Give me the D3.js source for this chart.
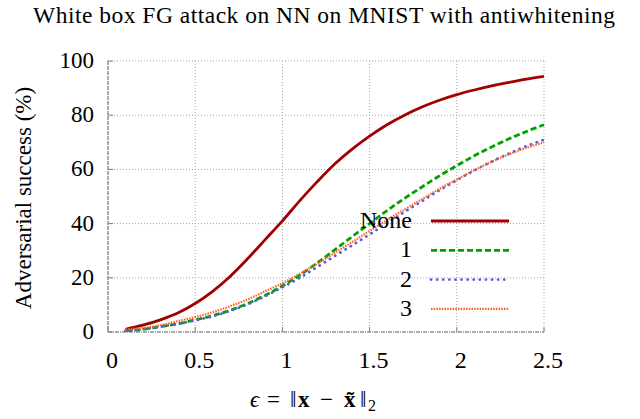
<!DOCTYPE html>
<html>
<head>
<meta charset="utf-8">
<script src="https://cdn.jsdelivr.net/npm/d3@7"></script>
<style>
 body { margin: 0; background: #fff; }
 #chart text { font-family: "Liberation Serif", "Times New Roman", serif; fill: #000; }
</style>
</head>
<body>
<svg id="chart" width="640" height="419"></svg>
<script>
const eps = [0.1, 0.2, 0.3, 0.4, 0.5, 0.6, 0.7, 0.8, 0.9, 1.0, 1.1, 1.2, 1.3,
  1.4, 1.5, 1.6, 1.7, 1.8, 1.9, 2.0, 2.1, 2.2, 2.3, 2.4, 2.5];
const none = [1, 2.5, 4.5, 7, 10.5, 15, 20.5, 27, 34, 41, 48.5, 55.5, 62,
  67.5, 72.3, 76.5, 80, 83, 85.5, 87.6, 89.3, 90.8, 92.1, 93.3, 94.3];
const aw1 = [0.5, 1, 2, 3, 4.5, 6, 8, 10.5, 13.5, 17, 21, 25.5, 30.3,
  35.2, 40, 44.8, 49.3, 53.5, 57.6, 61.4, 65, 68.3, 71.3, 74, 76.5];
const aw2 = [0.5, 1, 2, 3, 4.3, 5.8, 7.8, 10.2, 13.2, 16.5, 20, 24, 28,
  32, 36, 40.2, 44.3, 48.3, 52.3, 56, 59.6, 62.9, 65.9, 68.6, 71];
const aw3 = [1, 1.5, 2.5, 4, 5.5, 7.3, 9.5, 12, 15, 18, 21.5, 25.2, 29.2,
  33.2, 37.3, 41.3, 45.2, 49, 52.8, 56.3, 59.7, 62.8, 65.6, 68, 70];
const xTicks = [0, 0.5, 1, 1.5, 2, 2.5];
const yTicks = [0, 20, 40, 60, 80, 100];
const seriesNames = ["None", "1", "2", "3"];

const series = [
  {name: seriesNames[0], values: none, color: "#a00000", width: 2.8, dash: null, cap: "butt"},
  {name: seriesNames[1], values: aw1, color: "#00a000", width: 2.8, dash: "6,3", cap: "butt"},
  {name: seriesNames[2], values: aw2, color: "#5a5ae6", width: 2.8, dash: "0.1,6", cap: "round"},
  {name: seriesNames[3], values: aw3, color: "#ff6020", width: 2.2, dash: "1.5,1.2", cap: "butt"}
];

const svg = d3.select("#chart");
const plotLeft = 108, plotRight = 544, plotTop = 61, plotBottom = 332;

const x = d3.scaleLinear().domain([0, 2.5]).range([plotLeft, plotRight]);
const y = d3.scaleLinear().domain([0, 100]).range([plotBottom, plotTop]);

// grid
const grid = svg.append("g").attr("stroke", "#a0a0a0").attr("stroke-width", 1)
  .attr("stroke-dasharray", "1,2");
grid.selectAll(".gx").data(xTicks.slice(1)).enter().append("line")
  .attr("x1", d => x(d)).attr("x2", d => x(d)).attr("y1", plotTop).attr("y2", plotBottom);
grid.selectAll(".gy").data(yTicks.slice(1)).enter().append("line")
  .attr("x1", plotLeft).attr("x2", plotRight).attr("y1", d => y(d)).attr("y2", d => y(d));

// frame
svg.append("line").attr("x1", plotLeft).attr("x2", plotLeft).attr("y1", plotTop).attr("y2", plotBottom)
  .attr("stroke", "#909090").attr("stroke-width", 1.5).attr("stroke-dasharray", "4,1");
svg.append("line").attr("x1", plotLeft).attr("x2", plotRight).attr("y1", plotBottom).attr("y2", plotBottom)
  .attr("stroke", "#909090").attr("stroke-width", 1.5).attr("stroke-dasharray", "4,1,1,1");

// tick marks
const ticks = svg.append("g").attr("stroke", "#808080").attr("stroke-width", 1);
ticks.selectAll(".tx").data(xTicks).enter().append("line")
  .attr("x1", d => x(d)).attr("x2", d => x(d)).attr("y1", plotBottom).attr("y2", plotBottom - 5);
ticks.selectAll(".ty").data(yTicks).enter().append("line")
  .attr("x1", plotLeft).attr("x2", plotLeft + 5).attr("y1", d => y(d)).attr("y2", d => y(d));

// tick labels
svg.selectAll(".xl").data(xTicks).enter().append("text")
  .attr("x", d => x(d) + 4).attr("y", 368)
  .attr("text-anchor", "middle").attr("font-size", 24)
  .text(d => d3.format("")(d));
svg.selectAll(".yl").data(yTicks).enter().append("text")
  .attr("x", 94).attr("y", d => y(d) + 7)
  .attr("text-anchor", "end").attr("font-size", 23)
  .text(d => d);

// lines
const line = d3.line().x((d, i) => x(eps[i])).y(d => y(d)).curve(d3.curveCatmullRom);
series.forEach(s => {
  svg.append("path")
    .attr("d", line(s.values))
    .attr("fill", "none")
    .attr("stroke", s.color)
    .attr("stroke-width", s.width)
    .attr("stroke-linecap", s.cap)
    .attr("stroke-dasharray", s.dash);
});

// legend
const legend = svg.append("g");
series.forEach((s, i) => {
  const ly = 221 + i * 29.3;
  legend.append("text").attr("x", 412).attr("y", ly + 7)
    .attr("text-anchor", "end").attr("font-size", 24).text(s.name);
  legend.append("line").attr("x1", 431).attr("x2", 509).attr("y1", ly).attr("y2", ly)
    .attr("stroke", s.color).attr("stroke-width", s.width)
    .attr("stroke-linecap", s.cap).attr("stroke-dasharray", s.dash);
});

// title
svg.append("text").attr("x", 33).attr("y", 23)
  .attr("font-size", 23.5).attr("textLength", 582).attr("lengthAdjust", "spacing")
  .text("White box FG attack on NN on MNIST with antiwhitening");

// y label
svg.append("text").attr("transform", "translate(31,198) rotate(-90)")
  .attr("text-anchor", "middle").attr("font-size", 23).text("Adversarial success (%)");

// x label
const xl = svg.append("text").attr("y", 407).attr("font-size", 23);
xl.append("tspan").attr("x", 250).attr("font-style", "italic").text("ϵ");
xl.append("tspan").attr("x", 267).text("=");
xl.append("tspan").attr("x", 290).text("‖");
xl.append("tspan").attr("x", 298).attr("font-weight", "bold").text("x");
xl.append("tspan").attr("x", 320).text("−");
xl.append("tspan").attr("x", 344).attr("font-weight", "bold").text("x̃");
xl.append("tspan").attr("x", 360).text("‖");
xl.append("tspan").attr("x", 368).attr("font-size", 16).attr("dy", 4).text("2");
</script>
</body>
</html>
